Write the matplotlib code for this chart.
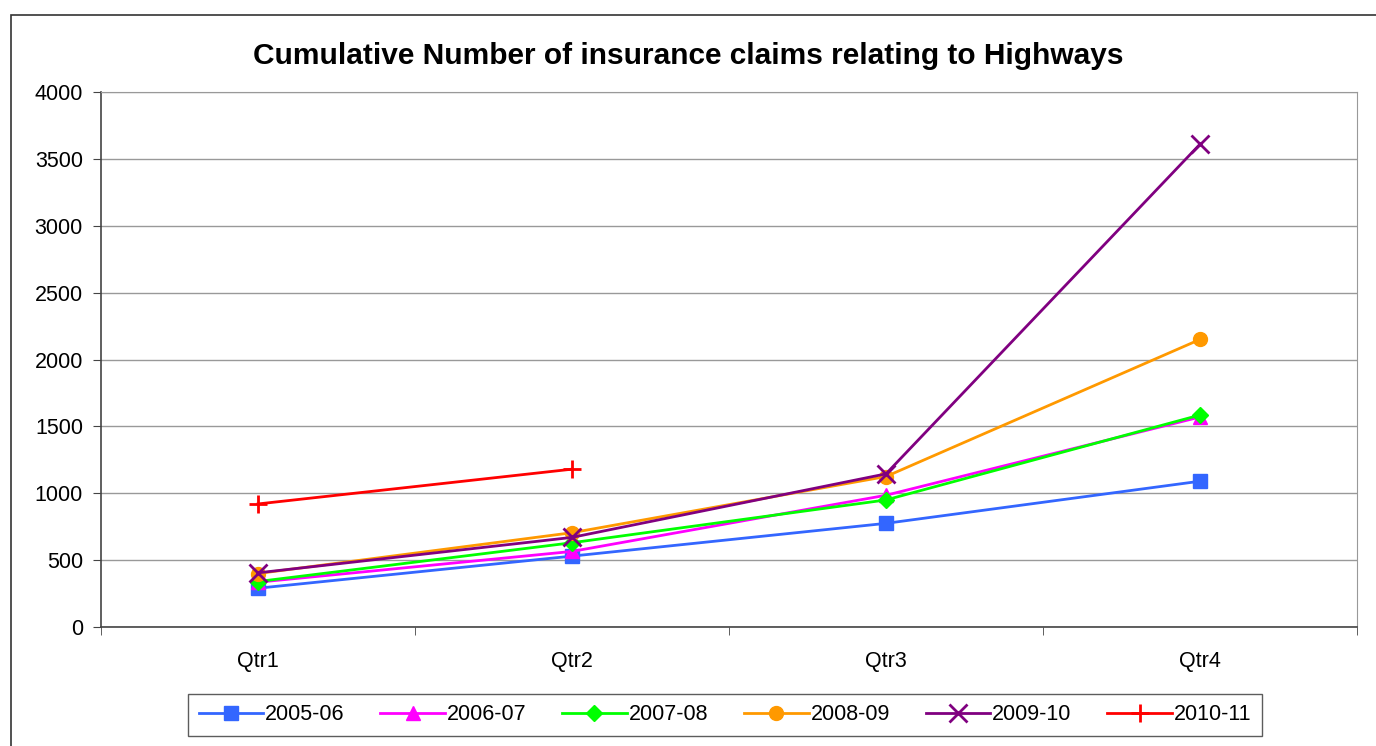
import matplotlib.pyplot as plt
import matplotlib.patches as patches
import numpy as np

plt.rcParams['font.family'] = ['Liberation Sans', 'DejaVu Sans']

quarters = ['Qtr1', 'Qtr2', 'Qtr3', 'Qtr4']
years = ['2005-06', '2006-07', '2007-08', '2008-09', '2009-10', '2010-11']

claims_0506 = [290, 530, 775, 1090]
claims_0607 = [335, 565, 985, 1570]
claims_0708 = [340, 630, 950, 1585]
claims_0809 = [400, 705, 1125, 2150]
claims_0910 = [405, 670, 1145, 3610]
claims_1011 = [920, 1180]

series = [claims_0506, claims_0607, claims_0708, claims_0809, claims_0910, claims_1011]
colors = ['#3366FF', '#FF00FF', '#00FF00', '#FF9900', '#800080', '#FF0000']
markers = ['s', '^', 'D', 'o', 'x', '+']
msizes = [10, 10, 8, 10, 13, 13]

fig = plt.figure(figsize=(13.76, 7.46), dpi=100)
ax = fig.add_axes([101 / 1376, 1 - 627 / 746, 1256 / 1376, 535 / 746])

# outer chart frame
fig.patches.append(patches.Rectangle((11 / 1376, -0.1), 1.2, 1 - 15 / 746 + 0.1,
                                     transform=fig.transFigure, fill=False,
                                     edgecolor='#333333', lw=1.2))

for vals, name, c, m, ms in zip(series, years, colors, markers, msizes):
    x = np.arange(len(vals))
    ax.plot(x, vals, color=c, marker=m, markersize=ms, lw=2, label=name,
            markeredgewidth=2 if m in ('x', '+') else 1)

ax.set_xlim(-0.5, 3.5)
ax.set_ylim(0, 4000)
ax.set_yticks(np.arange(0, 4001, 500))
ax.set_xticks(np.arange(4))
ax.set_xticklabels(quarters)
ax.set_xticks(np.arange(-0.5, 3.6, 1), minor=True)
ax.tick_params(axis='x', which='major', length=0, pad=17, labelsize=15.5)
ax.tick_params(axis='x', which='minor', length=6, color='#444444')
ax.tick_params(axis='y', length=6, labelsize=15.5, pad=7, color='#444444')
ax.grid(axis='y', color='#999999', lw=1)
ax.set_axisbelow(True)
for s in ['top', 'right']:
    ax.spines[s].set_color('#999999')
for s in ['left', 'bottom']:
    ax.spines[s].set_color('#444444')
    ax.spines[s].set_linewidth(1.2)

fig.text(688 / 1376, 1 - 56 / 746, 'Cumulative Number of insurance claims relating to Highways',
         ha='center', va='center', fontsize=21.5, fontweight='bold')

leg = fig.legend(loc='center', bbox_to_anchor=(725 / 1376, 1 - 715 / 746), ncol=6,
                 fontsize=15.5, frameon=True, fancybox=False, edgecolor='#333333',
                 handlelength=3, columnspacing=1.65, handletextpad=0.1, borderpad=0.5)
leg.get_frame().set_linewidth(1)

fig.savefig('out.png', dpi=100)
